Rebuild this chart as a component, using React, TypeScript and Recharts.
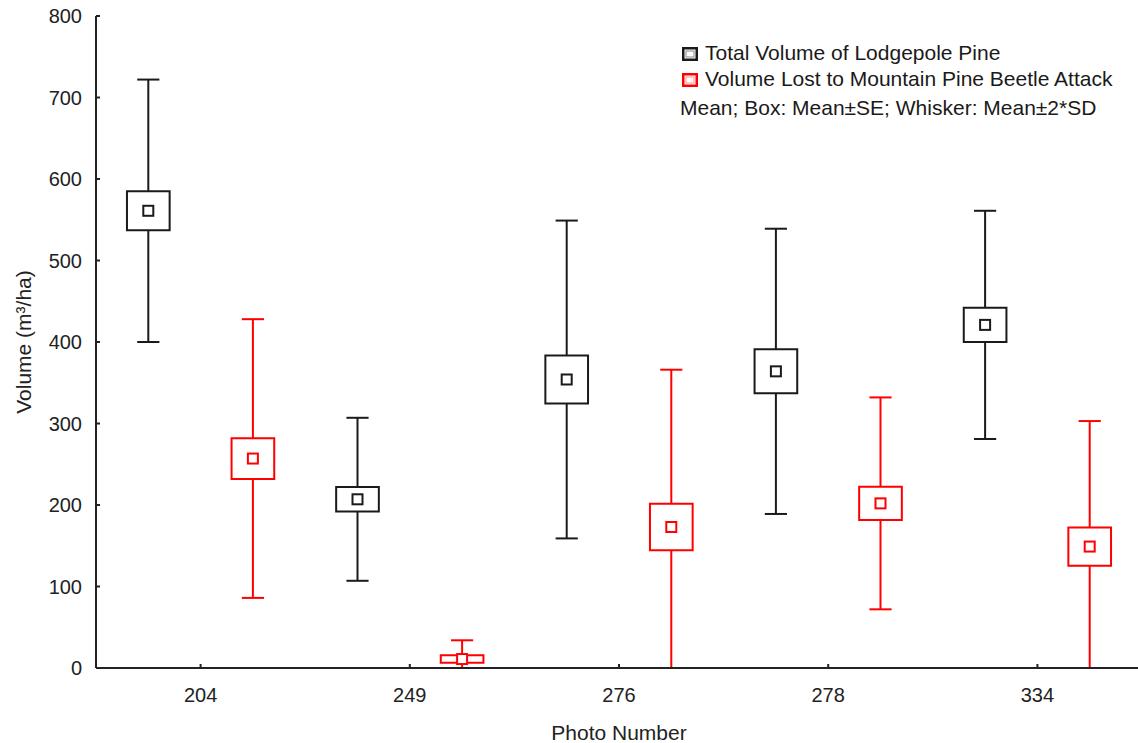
import React from 'react';
import {
  ComposedChart,
  XAxis,
  YAxis,
  Scatter,
  ReferenceLine,
  ReferenceArea,
  Legend,
} from 'recharts';

// ---- data ----
const photos = ['204', '249', '276', '278', '334'];
const totalMean = [561, 207, 354, 364, 421];
const totalSE = [24, 15, 29.5, 27, 21];
const total2SD = [161, 100, 195, 175, 140];
const lostMean = [257, 11, 173, 202, 149];
const lostSE = [25, 4.5, 28.5, 20.5, 23.5];
const lost2SD = [171, 23, 193, 130, 154];
const yTicks = [0, 100, 200, 300, 400, 500, 600, 700, 800];
const xTicks = [1, 2, 3, 4, 5];
const legendLabels = [
  'Total Volume of Lodgepole Pine',
  'Volume Lost to Mountain Pine Beetle Attack',
];
const legendNote = 'Mean; Box: Mean±SE; Whisker: Mean±2*SD';

// ---- style ----
const FONT = '"Liberation Sans", Arial, sans-serif';
const BLACK = '#1a1a1a';
const RED = '#ff0000';
const AXIS = '#222';
const SHIFT = 0.25;
const BOX_HALF = 0.102;
const CAP_HALF = 0.053;
const X_MARGIN = 27;
const Y_MARGIN = 14;
const TICK_IN = 4;

const totalPts = totalMean.map((m, i) => ({ x: i + 1 - SHIFT, y: m }));
const lostPts = lostMean.map((m, i) => ({ x: i + 1 + SHIFT, y: m }));

function boxPlot(means: number[], ses: number[], sds: number[], offset: number, color: string, id: string) {
  const out: React.ReactNode[] = [];
  means.forEach((m, i) => {
    const x = i + 1 + offset;
    const hi = m + sds[i];
    const lo = m - sds[i];
    const bt = m + ses[i];
    const bb = m - ses[i];
    const common = { stroke: color, strokeWidth: 2, ifOverflow: 'hidden' as const };
    out.push(<ReferenceLine key={`${id}-u${i}`} segment={[{ x, y: bt }, { x, y: hi }]} {...common} />);
    out.push(<ReferenceLine key={`${id}-l${i}`} segment={[{ x, y: lo }, { x, y: bb }]} {...common} />);
    out.push(<ReferenceLine key={`${id}-ch${i}`} segment={[{ x: x - CAP_HALF, y: hi }, { x: x + CAP_HALF, y: hi }]} {...common} />);
    out.push(<ReferenceLine key={`${id}-cl${i}`} segment={[{ x: x - CAP_HALF, y: lo }, { x: x + CAP_HALF, y: lo }]} {...common} />);
    out.push(
      <ReferenceArea
        key={`${id}-b${i}`}
        x1={x - BOX_HALF}
        x2={x + BOX_HALF}
        y1={bb}
        y2={bt}
        fill="none"
        fillOpacity={0}
        stroke={color}
        strokeWidth={2}
        ifOverflow="hidden"
      />
    );
  });
  return out;
}

const meanShape = (color: string) => (props: any) => (
  <rect x={props.cx - 5} y={props.cy - 5} width={10} height={10} fill="#fff" stroke={color} strokeWidth={2} />
);

const XTick = (props: any) => {
  const { x, y, payload } = props;
  const axisY = y - X_MARGIN;
  return (
    <g>
      <line x1={x} x2={x} y1={axisY} y2={axisY - TICK_IN} stroke={AXIS} strokeWidth={2} />
      <text x={x} y={y} textAnchor="middle" dominantBaseline="central" fontSize={20} fontFamily={FONT} fill="#222">
        {photos[payload.value - 1]}
      </text>
    </g>
  );
};

const YTick = (props: any) => {
  const { x, y, payload } = props;
  const axisX = x + Y_MARGIN;
  return (
    <g>
      <line x1={axisX} x2={axisX + TICK_IN} y1={y} y2={y} stroke={AXIS} strokeWidth={2} />
      <text x={x} y={y} textAnchor="end" dominantBaseline="central" fontSize={20} fontFamily={FONT} fill="#222">
        {payload.value}
      </text>
    </g>
  );
};

const Icon = ({ color, inner }: { color: string; inner: string }) => (
  <svg width={16} height={14} style={{ position: 'absolute', left: 0, top: 0 }}>
    <rect x={1.25} y={1.25} width={13.5} height={11.5} fill="#fff" stroke={color} strokeWidth={2.5} />
    <rect x={4} y={4} width={8} height={6} fill="none" stroke={inner} strokeWidth={1} />
  </svg>
);

const LegendBox = () => (
  <div style={{ position: 'relative', width: 460, height: 90, fontFamily: FONT, fontSize: 21, color: '#1a1a1a' }}>
    <div style={{ position: 'absolute', left: 2, top: 6 }}>
      <Icon color={BLACK} inner="#888" />
    </div>
    <div style={{ position: 'absolute', left: 25, top: 0, lineHeight: '24px', whiteSpace: 'nowrap' }}>{legendLabels[0]}</div>
    <div style={{ position: 'absolute', left: 2, top: 32 }}>
      <Icon color={RED} inner="#ff9090" />
    </div>
    <div style={{ position: 'absolute', left: 25, top: 26, lineHeight: '24px', whiteSpace: 'nowrap' }}>{legendLabels[1]}</div>
    <div style={{ position: 'absolute', left: 0, top: 55, lineHeight: '24px', whiteSpace: 'nowrap' }}>{legendNote}</div>
  </div>
);

export default function App() {
  return (
    <div style={{ position: 'absolute', left: 0, top: 0, width: 1138, height: 743, overflow: 'hidden', background: '#fff' }}>
      <ComposedChart width={1150} height={743} margin={{ top: 16, right: 8, bottom: 0, left: 0 }}>
        <XAxis
          xAxisId={0}
          dataKey="x"
          type="number"
          domain={[0.5, 5.5]}
          ticks={xTicks}
          allowDataOverflow
          height={75}
          tickLine={false}
          tickSize={0}
          tickMargin={X_MARGIN}
          tick={<XTick />}
          axisLine={{ stroke: AXIS, strokeWidth: 2 }}
          label={(p: any) => {
            const vb = p.viewBox;
            return (
              <text x={vb.x + vb.width / 2} y={vb.y + 64} textAnchor="middle" dominantBaseline="central" fontSize={21} fontFamily={FONT} fill="#222">
                Photo Number
              </text>
            );
          }}
        />
        <XAxis
          xAxisId="top"
          orientation="top"
          type="number"
          domain={[0.5, 5.5]}
          ticks={xTicks}
          allowDataOverflow
          height={0}
          mirror
          tick={false}
          tickSize={TICK_IN}
          tickLine={{ stroke: AXIS, strokeWidth: 2 }}
          axisLine={{ stroke: AXIS, strokeWidth: 2 }}
        />
        <YAxis
          yAxisId={0}
          type="number"
          domain={[0, 800]}
          ticks={yTicks}
          allowDataOverflow
          width={96}
          tickLine={false}
          tickSize={0}
          tickMargin={Y_MARGIN}
          tick={<YTick />}
          axisLine={{ stroke: AXIS, strokeWidth: 2 }}
          label={(p: any) => {
            const vb = p.viewBox;
            const cx = vb.x + 23;
            const cy = vb.y + vb.height / 2;
            return (
              <text x={cx} y={cy} transform={`rotate(-90 ${cx} ${cy})`} textAnchor="middle" dominantBaseline="central" fontSize={21} fontFamily={FONT} fill="#222">
                Volume (m³/ha)
              </text>
            );
          }}
        />
        <YAxis
          yAxisId="right"
          orientation="right"
          type="number"
          domain={[0, 800]}
          ticks={yTicks}
          allowDataOverflow
          width={0}
          mirror
          tick={false}
          tickSize={TICK_IN}
          tickLine={{ stroke: '#999', strokeWidth: 1 }}
          axisLine={{ stroke: AXIS, strokeWidth: 2 }}
        />
        {boxPlot(totalMean, totalSE, total2SD, -SHIFT, BLACK, 't')}
        {boxPlot(lostMean, lostSE, lost2SD, SHIFT, RED, 'l')}
        <Scatter name={legendLabels[0]} data={totalPts} dataKey="y" shape={meanShape(BLACK)} isAnimationActive={false} />
        <Scatter name={legendLabels[1]} data={lostPts} dataKey="y" shape={meanShape(RED)} isAnimationActive={false} />
        <Legend
          layout="horizontal"
          verticalAlign="middle"
          align="center"
          wrapperStyle={{ left: 680, top: 41, width: 460, height: 90 }}
          content={() => <LegendBox />}
        />
      </ComposedChart>
    </div>
  );
}
